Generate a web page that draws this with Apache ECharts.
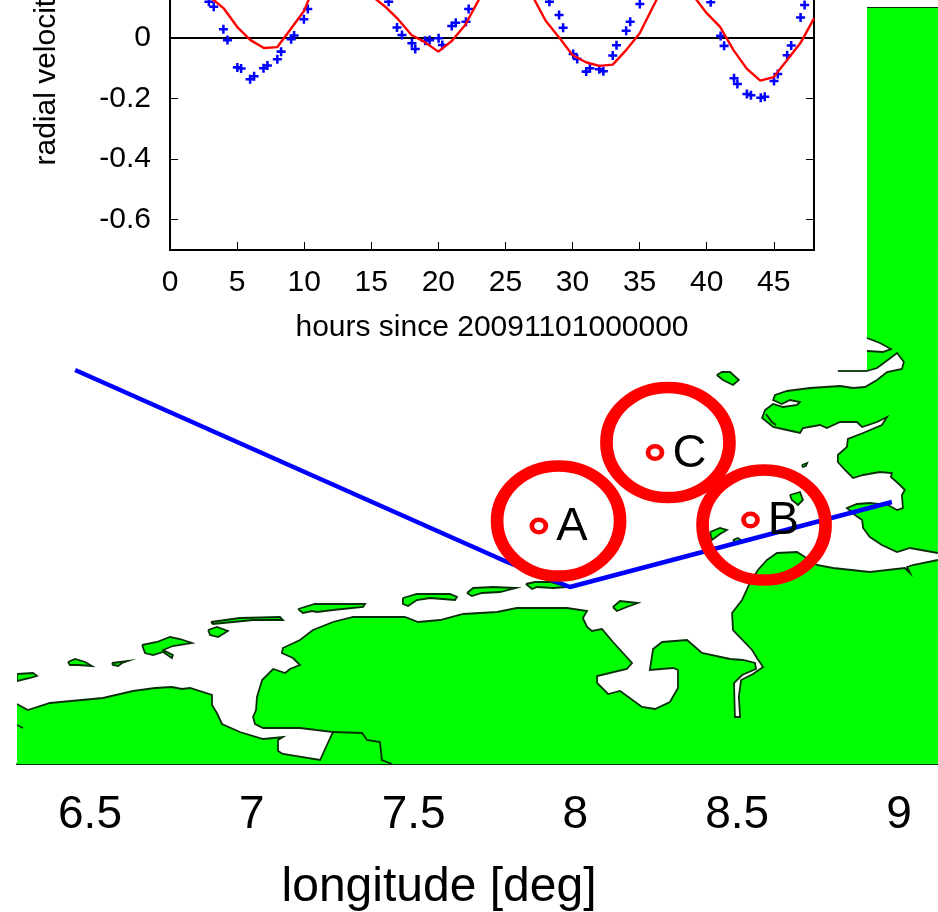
<!DOCTYPE html>
<html>
<head>
<meta charset="utf-8">
<script src="https://cdn.jsdelivr.net/npm/echarts@6/dist/echarts.min.js"></script>
</head>
<body style="margin:0;background:#fff">
<div id="main" style="width:938px;height:912px"></div>
<script>
// radial velocity time series: [hour, m/s]
var modelVelocity = [[0,.3],[1,.28],[2,.2],[3,.135],[4,.098],[5,.037],[6,-.007],[7,-.033],[8,-.03],[9,.03],[10,.09],
  [11,.2],[12,.3],[13,.3],[14,.22],[15,.14],[16,.105],[17,.062],[18,.01],[19,-.014],[20,-.045],[21,-.01],[22,.043],[23,.125],
  [24,.22],[25,.28],[26,.25],[27,.14],[28,.057],[29,.002],[30,-.056],[31,-.08],[32,-.092],[33,-.088],[34,-.04],[35,.015],[36,.103],
  [37,.19],[38,.22],[39,.14],[40,.082],[41,.037],[42,-.04],[43,-.102],[44,-.141],[45,-.129],[46,-.073],[47,-.016],[48,.065]];
var observedVelocity = [[2.9,.12],[3.26,.103],[3.98,.029],[4.28,-.007],[5.02,-.097],[5.3,-.101],[5.97,-.136],[6.27,-.126],[6.97,-.1],[7.26,-.091],
  [8,-.07],[8.28,-.045],[9.03,-.004],[9.25,.008],[9.98,.062],[10.27,.096],
  [16.3,.12],[16.92,.035],[17.29,.01],[18.03,-.017],[18.28,-.036],[19.03,-.009],[19.35,-.007],[20.02,-.001],[20.3,-.023],[21,.04],[21.3,.05],[22.06,.054],[22.26,.096],
  [28.28,.12],[29,.076],[29.3,.034],[30.05,-.053],[30.35,-.069],[31.02,-.111],[31.3,-.1],[32,-.103],[32.3,-.11],[33,-.058],[33.28,-.024],[34,.024],[34.3,.054],[35.02,.112],
  [40.3,.118],[41.04,.007],[41.3,-.026],[42.04,-.133],[42.29,-.152],[43,-.185],[43.3,-.189],[44.03,-.197],[44.33,-.194],[45.02,-.142],[45.3,-.119],[46,-.057],[46.3,-.025],[47,.068],[47.3,.109]];
var zeroLine = [[0,0],[48,0]];
var hourTicks = [0,5,10,15,20,25,30,35,40,45];
var velocityTicks = [-0.6,-0.4,-0.2,0];
var lonTicks = [6.5,7,7.5,8,8.5,9];

// coastline: [lon, lat]
var southCoast = [[6.274,53.42],[6.308,53.408],[6.376,53.422],[6.54,53.432],[6.633,53.446],[6.701,53.452],[6.753,53.454],[6.784,53.45],[6.809,53.452],
  [6.877,53.438],[6.877,53.418],[6.892,53.402],[6.908,53.38],[6.963,53.364],[7.035,53.35],[7.096,53.354],[7.081,53.348],[7.081,53.326],[7.096,53.32],
  [7.211,53.308],[7.235,53.342],[7.251,53.364],[7.149,53.372],[7.035,53.372],[7.01,53.38],[7.004,53.394],[7.013,53.408],[7.016,53.434],[7.032,53.468],
  [7.066,53.49],[7.103,53.482],[7.118,53.49],[7.149,53.498],[7.127,53.512],[7.093,53.522],[7.096,53.532],[7.149,53.548],[7.189,53.568],[7.251,53.584],
  [7.313,53.594],[7.405,53.594],[7.473,53.594],[7.514,53.584],[7.582,53.588],[7.653,53.6],[7.758,53.604],[7.819,53.612],[7.974,53.612],[8.036,53.606],
  [8.023,53.592],[8.036,53.574],[8.051,53.566],[8.082,53.57],[8.116,53.544],[8.147,53.522],[8.175,53.502],[8.159,53.49],[8.067,53.476],[8.067,53.462],
  [8.101,53.44],[8.138,53.446],[8.206,53.414],[8.246,53.41],[8.292,53.424],[8.317,53.452],[8.317,53.488],[8.302,53.492],[8.23,53.488],[8.24,53.53],
  [8.268,53.544],[8.345,53.548],[8.391,53.522],[8.478,53.51],[8.518,53.508],[8.555,53.502],[8.558,53.49],[8.515,53.478],[8.49,53.462],[8.493,53.394],
  [8.509,53.394],[8.505,53.434],[8.512,53.468],[8.549,53.48],[8.58,53.494],[8.561,53.512],[8.546,53.528],[8.487,53.568],[8.484,53.602],[8.515,53.628],
  [8.539,53.662],[8.564,53.688],[8.592,53.708],[8.623,53.722],[8.685,53.724],[8.709,53.714],[8.746,53.698],[8.796,53.692],[8.91,53.684],[9.018,53.692],
  [9.034,53.682],[9.025,53.694],[9.043,53.698],[9.12,53.708]];
var southCorners = [[9.1205,53.3],[6.2744,53.3]];
var northCoast = [[9.12,53.722],[9.034,53.732],[8.994,53.724],[8.947,53.738],[8.91,53.754],[8.889,53.772],[8.886,53.788],[8.864,53.798],[8.839,53.812],
  [8.87,53.82],[8.91,53.822],[8.966,53.818],[8.994,53.808],[9.012,53.812],[9.009,53.838],[9.018,53.848],[9.003,53.858],[8.975,53.874],[8.978,53.882],
  [8.941,53.884],[8.889,53.878],[8.858,53.872],[8.833,53.888],[8.811,53.904],[8.811,53.918],[8.839,53.934],[8.842,53.95],[8.889,53.962],[8.947,53.978],
  [8.963,53.994],[8.932,53.984],[8.886,53.974],[8.87,53.984],[8.818,53.984],[8.777,53.972],[8.756,53.978],[8.703,53.972],[8.694,53.962],[8.654,53.968],
  [8.611,53.974],[8.577,53.992],[8.586,54.008],[8.611,54.02],[8.642,54.014],[8.685,54.018],[8.694,54.024],[8.663,54.028],[8.638,54.02],[8.611,54.028],
  [8.617,54.038],[8.654,54.046],[8.725,54.052],[8.818,54.056],[8.858,54.052],[8.895,54.054],[8.932,54.068],[8.963,54.084],[9.009,54.09],[9.015,54.104],
  [8.994,54.122],[8.957,54.104],[8.932,54.092],[8.901,54.086]];
var eiderInlet = [[8.901,54.126],[8.95,54.124],[8.975,54.13],[8.941,54.142],[8.901,54.152]];
var northCorners = [[8.901,54.814],[9.1205,54.814]];
var northEdge = [[8.901,54.814],[9.1205,54.814]];
var islands = [
  [[6.274,53.48],[6.324,53.482],[6.336,53.476],[6.315,53.472],[6.274,53.466]],
  [[6.432,53.504],[6.454,53.51],[6.485,53.504],[6.506,53.496],[6.463,53.498],[6.438,53.498]],
  [[6.568,53.502],[6.617,53.506],[6.599,53.502],[6.587,53.496],[6.571,53.498]],
  [[6.661,53.538],[6.707,53.544],[6.747,53.554],[6.778,53.55],[6.815,53.542],[6.756,53.536],[6.726,53.528],[6.756,53.518],[6.753,53.512],[6.726,53.524],[6.695,53.518],[6.67,53.522]],
  [[6.865,53.568],[6.892,53.574],[6.926,53.566],[6.896,53.554],[6.871,53.558]],
  [[6.874,53.584],[6.963,53.592],[7.087,53.594],[7.096,53.588],[7.004,53.588],[6.88,53.58]],
  [[7.143,53.61],[7.195,53.62],[7.35,53.62],[7.344,53.614],[7.251,53.608],[7.202,53.604],[7.186,53.606],[7.158,53.602]],
  [[7.467,53.632],[7.51,53.64],[7.612,53.64],[7.634,53.634],[7.628,53.628],[7.551,53.632],[7.51,53.628],[7.483,53.616],[7.467,53.62]],
  [[7.665,53.642],[7.684,53.652],[7.745,53.654],[7.816,53.652],[7.767,53.644],[7.711,53.642],[7.68,53.636]],
  [[7.847,53.66],[7.875,53.664],[7.921,53.664],[7.977,53.654],[7.931,53.652],[7.881,53.654],[7.866,53.65]],
  [[8.116,53.614],[8.138,53.626],[8.193,53.622],[8.159,53.614],[8.128,53.606]],
  [[8.437,54.078],[8.453,54.084],[8.478,54.084],[8.505,54.068],[8.487,54.058],[8.456,54.068]],
  [[8.7,53.898],[8.716,53.902],[8.712,53.896],[8.703,53.894]],
  [[8.663,53.838],[8.694,53.844],[8.703,53.828],[8.688,53.818],[8.669,53.828]],
  [[8.416,53.764],[8.447,53.772],[8.468,53.768],[8.447,53.76],[8.422,53.748]],
  [[8.487,53.748],[8.502,53.752],[8.515,53.746],[8.493,53.744]]
];
var borderLines = [
  [[7.251,53.364],[7.341,53.362],[7.356,53.348],[7.396,53.344],[7.402,53.308],[7.433,53.3]],
  [[6.274,53.378],[6.293,53.372]],
  [[8.589,54.0],[8.607,53.984],[8.62,53.978]],
  [[8.811,54.086],[8.901,54.086]]
];
var track = [[6.454,54.088],[7.789,53.704],[7.983,53.654],[8.978,53.824]];
var siteNames = ['A','B','C'];
var sitePoints = [[7.887,53.776],[8.541,53.788],[8.246,53.923]];
var ringCentres = [[7.948,53.786],[8.583,53.778],[8.286,53.943]];

var font = 'Liberation Sans';
var plus = 'path://M3.6,0H6.4V3.6H10V6.4H6.4V10H3.6V6.4H0V3.6H3.6Z';
var oval = 'path://M0,50A50,50,0,1,1,100,50A50,50,0,1,1,0,50Z';

var fills = [southCoast.concat(southCorners), northCoast.concat(eiderInlet, northCorners)].concat(islands);
var strokes = [southCoast, northCoast, eiderInlet, northEdge].concat(
  islands.map(function (r) { return r.concat([r[0]]); }), borderLines);

function drawLand(params, api) {
  var kids = [];
  fills.forEach(function (r) {
    kids.push({type: 'polygon', shape: {points: r.map(function (p) { return api.coord(p); })},
      style: {fill: '#00ff00', stroke: null}});
  });
  strokes.forEach(function (r) {
    kids.push({type: 'polyline', shape: {points: r.map(function (p) { return api.coord(p); })},
      style: {fill: null, stroke: '#062f06', lineWidth: 1.8}});
  });
  return {type: 'group', children: kids};
}

var insetAxisLine = {lineStyle: {color: '#000', width: 2}, onZero: false};
var chart = echarts.init(document.getElementById('main'));
chart.setOption({
  animation: false,
  backgroundColor: '#fff',
  textStyle: {fontFamily: font},
  grid: [
    {left: 170, top: -174, width: 644, height: 424, outerBoundsMode: 'none'},
    {left: 17, top: 7, width: 921, height: 757, outerBoundsMode: 'none'}
  ],
  xAxis: [{
    gridIndex: 0, type: 'value', min: 0, max: 48,
    name: 'hours since 20091101000000', nameLocation: 'middle', nameGap: 63,
    nameTextStyle: {fontSize: 30, color: '#000', fontFamily: font},
    axisLine: insetAxisLine,
    axisTick: {inside: true, length: 8, lineStyle: {color: '#000', width: 1}, customValues: hourTicks},
    axisLabel: {fontSize: 30, color: '#000', margin: 18, customValues: hourTicks},
    splitLine: {show: false}
  }, {
    gridIndex: 1, type: 'value', min: 6.2744, max: 9.1205,
    name: 'longitude [deg]', nameLocation: 'middle', nameGap: 100,
    nameTextStyle: {fontSize: 48, color: '#000', fontFamily: font, padding: [0, 77, 0, 0]},
    axisLine: {lineStyle: {color: '#062f06', width: 2}, onZero: false},
    axisTick: {show: false},
    axisLabel: {fontSize: 46, color: '#000', margin: 28, customValues: lonTicks},
    splitLine: {show: false}
  }],
  yAxis: [{
    gridIndex: 0, type: 'value', min: -0.7, max: 0.7,
    name: 'radial velocity [m/s]', nameLocation: 'middle', nameGap: 108,
    nameTextStyle: {fontSize: 30, color: '#000', fontFamily: font},
    axisLine: insetAxisLine,
    axisTick: {inside: true, length: 8, lineStyle: {color: '#000', width: 1}, customValues: velocityTicks},
    axisLabel: {fontSize: 30, color: '#000', margin: 19, customValues: velocityTicks},
    splitLine: {show: false}
  }, {
    gridIndex: 0, type: 'value', position: 'right', min: -0.7, max: 0.7,
    axisLine: insetAxisLine,
    axisTick: {inside: true, length: 8, lineStyle: {color: '#000', width: 1}, customValues: velocityTicks},
    axisLabel: {show: false},
    splitLine: {show: false}
  }, {
    gridIndex: 1, type: 'value', min: 53.3, max: 54.814, show: false,
    splitLine: {show: false}
  }],
  series: [
    {type: 'custom', xAxisIndex: 1, yAxisIndex: 2, clip: true, silent: true, z: 1,
      data: [[7, 54]], renderItem: drawLand},
    {type: 'line', xAxisIndex: 1, yAxisIndex: 2, data: track, symbol: 'none', z: 2,
      lineStyle: {color: '#0000ff', width: 4.5}},
    {type: 'scatter', xAxisIndex: 1, yAxisIndex: 2, data: ringCentres, symbol: oval, symbolSize: [123, 110], z: 3,
      itemStyle: {color: 'transparent', borderColor: '#ff0000', borderWidth: 12, opacity: 1}},
    {type: 'scatter', xAxisIndex: 1, yAxisIndex: 2, z: 4,
      data: sitePoints.map(function (p, i) { return {name: siteNames[i], value: p}; }),
      symbol: oval, symbolSize: [14, 12.5],
      itemStyle: {color: '#fff', borderColor: '#ff0000', borderWidth: 4.5, opacity: 1},
      label: {show: true, position: 'right', distance: 8, formatter: '{b}', fontSize: 47, color: '#000', fontFamily: font, offset: [0, 1.5]}},
    {type: 'line', xAxisIndex: 0, yAxisIndex: 0, data: zeroLine, symbol: 'none', z: 5,
      lineStyle: {color: '#000', width: 2}},
    {type: 'scatter', xAxisIndex: 0, yAxisIndex: 0, data: observedVelocity, symbol: plus, symbolSize: 9, z: 6,
      itemStyle: {color: '#0000ff', opacity: 1}},
    {type: 'line', xAxisIndex: 0, yAxisIndex: 0, data: modelVelocity, symbol: 'none', z: 7,
      lineStyle: {color: '#ff0000', width: 2.4}}
  ]
});
</script>
</body>
</html>
